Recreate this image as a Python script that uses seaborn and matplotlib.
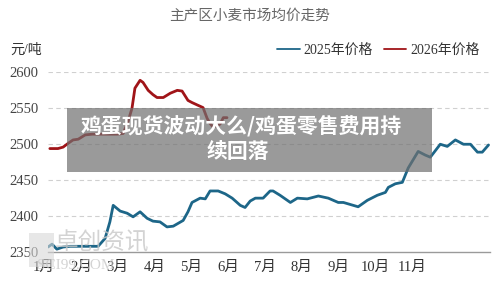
import numpy as np
import pandas as pd
import matplotlib
matplotlib.use('Agg')
import matplotlib.pyplot as plt
import matplotlib.transforms as mtransforms
from matplotlib.patches import Rectangle
import seaborn as sns

# month position (0 = 1月1日) and price
x_2025 = [0.00, 0.11, 0.24, 0.41, 0.60, 1.01, 1.36, 1.55, 1.68, 1.77, 1.96, 2.15,
          2.31, 2.50, 2.69, 2.85, 3.04, 3.23, 3.40, 3.67, 3.80, 3.91, 4.13, 4.27,
          4.40, 4.62, 4.81, 5.00, 5.22, 5.35, 5.49, 5.63, 5.84, 6.03, 6.11, 6.30,
          6.58, 6.77, 7.04, 7.34, 7.61, 7.88, 8.02, 8.42, 8.67, 8.94, 9.16, 9.24,
          9.43, 9.62, 9.78, 10.05, 10.24, 10.38, 10.65, 10.84, 11.06, 11.28, 11.47,
          11.66, 11.79, 11.96]
p_2025 = [2357, 2361, 2354, 2357, 2358, 2358, 2358, 2369, 2392, 2415, 2407, 2404,
          2399, 2406, 2397, 2393, 2392, 2385, 2386, 2394, 2406, 2419, 2425, 2424,
          2435, 2435, 2431, 2425, 2415, 2412, 2421, 2425, 2425, 2435, 2435, 2429,
          2419, 2425, 2424, 2428, 2425, 2419, 2419, 2413, 2422, 2429, 2433, 2440,
          2445, 2447, 2467, 2490, 2485, 2482, 2500, 2497, 2506, 2500, 2500,
          2489, 2489, 2499]

x_2026 = [0.05, 0.27, 0.41, 0.54, 0.68, 0.82, 1.01, 1.20, 1.49, 1.88, 2.04, 2.17,
          2.28, 2.36, 2.50, 2.58, 2.72, 2.85, 2.96, 3.13, 3.32, 3.51, 3.64, 3.80,
          3.91, 4.08, 4.21, 4.32, 4.40, 4.48, 4.59, 4.67, 4.76, 4.86]
p_2026 = [2494, 2494, 2496, 2501, 2506, 2507, 2513, 2514, 2514, 2514, 2515, 2531,
          2550, 2578, 2589, 2586, 2575, 2569, 2565, 2565, 2571, 2575, 2574, 2561,
          2558, 2554, 2551, 2536, 2529, 2524, 2526, 2528, 2537, 2537]

months = ['1月', '2月', '3月', '4月', '5月', '6月', '7月', '8月', '9月', '10月', '11月']
yticks = [2350, 2400, 2450, 2500, 2550, 2600]

df = pd.concat([
    pd.DataFrame({'x': x_2025, 'price': p_2025, 'series': '2025年价格'}),
    pd.DataFrame({'x': x_2026, 'price': p_2026, 'series': '2026年价格'}),
])

sns.set_style('white')
fonts = ['Liberation Serif', 'Noto Sans CJK SC', 'DejaVu Sans']
plt.rcParams['font.family'] = fonts

fig = plt.figure(figsize=(5, 2.81), dpi=100)
ax = fig.add_axes([0.096, 0.103, 0.884, 0.642])

sns.lineplot(data=df, x='x', y='price', hue='series', ax=ax, sort=False,
             palette={'2025年价格': '#1d6688', '2026年价格': '#a01418'},
             linewidth=2.0, legend=True)

ax.set_xlim(0, 12)
ax.set_ylim(2350, 2601)
ax.set_xticks(range(len(months)))
ax.set_xticklabels(months)
ax.set_yticks(yticks)
ax.set_xlabel('')
ax.set_ylabel('')

for v in yticks[1:]:
    ax.axhline(v, color='#d0d0d0', lw=0.8, ls=(0, (4, 3)), zorder=0)

for s in ['top', 'right', 'left']:
    ax.spines[s].set_visible(False)
ax.spines['bottom'].set_color('#9a9a9a')
ax.spines['bottom'].set_linewidth(1.0)

ax.tick_params(axis='x', direction='in', length=3, color='#9a9a9a',
               labelsize=10.5, labelcolor='#333333', pad=6)
ax.tick_params(axis='y', length=0, labelsize=10.5, labelcolor='#444444', pad=7)
shift = mtransforms.ScaledTranslation(-4 / 100, 0, fig.dpi_scale_trans)
for lab in ax.get_xticklabels():
    lab.set_transform(lab.get_transform() + shift)

leg = ax.legend(loc='center right', bbox_to_anchor=(0.985, 0.822),
                bbox_transform=fig.transFigure, ncol=2, frameon=False,
                fontsize=10, handlelength=1.6, handletextpad=0.3,
                columnspacing=0.8, labelcolor='#333333')
for line in leg.get_lines():
    line.set_linewidth(1.3)

fig.text(0.5, 0.945, '主产区小麦市场均价走势', ha='center', va='center',
         fontsize=10.5, color='#666666', family=['Noto Sans CJK SC'])
fig.text(0.02, 0.822, '元/吨', ha='left', va='center', fontsize=10,
         color='#333333', family=fonts)

# watermark (sits behind the lower-left ticks, as in the source)
fig.text(0.11, 0.135, '卓创资讯', ha='left', va='center', fontsize=17,
         color='#c8c8c8', alpha=0.8, family=['Noto Sans CJK SC'])
fig.text(0.075, 0.055, 'SCI99.COM', ha='left', va='center', fontsize=11,
         color='#c8c8c8', alpha=0.8, family=['Liberation Serif'])
fig.patches.append(Rectangle((0.058, 0.05), 0.05, 0.12, transform=fig.transFigure,
                             facecolor='#d8d8d8', alpha=0.6, edgecolor='none'))

# overlay caption box
fig.patches.append(Rectangle((0.134, 0.388), 0.73, 0.228, transform=fig.transFigure,
                             facecolor='#707070', alpha=0.7, edgecolor='none', zorder=5))
fig.text(0.482, 0.553, '鸡蛋现货波动大么/鸡蛋零售费用持', ha='center', va='center',
         fontsize=15, fontweight='bold', color='white', zorder=6,
         family=['Noto Sans CJK SC'])
fig.text(0.476, 0.462, '续回落', ha='center', va='center',
         fontsize=15, fontweight='bold', color='white', zorder=6,
         family=['Noto Sans CJK SC'])

fig.savefig('out.png', dpi=100)
